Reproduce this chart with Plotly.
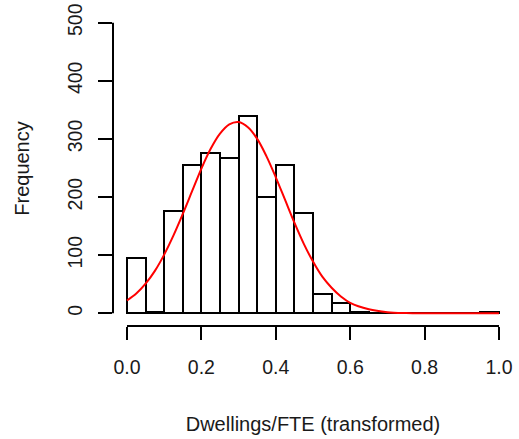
import plotly.graph_objects as go

# histogram bins (left edges) and counts
bin_starts = [0.00, 0.05, 0.10, 0.15, 0.20, 0.25, 0.30, 0.35, 0.40, 0.45,
              0.50, 0.55, 0.60, 0.65, 0.70, 0.75, 0.80, 0.85, 0.90, 0.95]
counts = [95, 3, 176, 255, 276, 268, 340, 200, 255, 172,
          33, 17, 3, 1, 0, 0, 0, 0, 0, 2]
bin_width = 0.05

# fitted normal curve (scaled to counts)
curve_x = [0.0, 0.025, 0.05, 0.075, 0.1, 0.125, 0.15, 0.175, 0.2, 0.225, 0.25,
           0.275, 0.3, 0.325, 0.35, 0.375, 0.4, 0.425, 0.45, 0.475, 0.5,
           0.525, 0.55, 0.575, 0.6, 0.65, 0.7, 0.75, 0.8, 0.9, 1.0]
curve_y = [22, 34, 51, 73, 101, 134, 171, 210, 249, 283, 309,
           325, 329, 320, 300, 270, 234, 195, 156, 120, 89,
           63, 44, 29, 18, 7, 2, 0.5, 0.1, 0, 0]

x_ticks = [0.0, 0.2, 0.4, 0.6, 0.8, 1.0]
y_ticks = [0, 100, 200, 300, 400, 500]

font_name = "Liberation Sans"
W, H = 519, 439

fig = go.Figure()
fig.add_trace(go.Bar(x=bin_starts, y=counts, width=bin_width, offset=0,
                     marker=dict(color="white", line=dict(color="black", width=2)),
                     hoverinfo="x+y"))
fig.add_trace(go.Scatter(x=curve_x, y=curve_y, mode="lines", line_shape="spline",
                         line=dict(color="#ff0000", width=2)))

# R style detached axis lines
fig.add_shape(type="line", xref="x", yref="paper", x0=x_ticks[0], x1=x_ticks[-1], y0=0, y1=0,
              line=dict(color="black", width=2))
fig.add_shape(type="line", xref="paper", yref="y", x0=0, x1=0, y0=y_ticks[0], y1=y_ticks[-1],
              line=dict(color="black", width=2))

fig.update_layout(
    width=W, height=H, showlegend=False, bargap=0,
    paper_bgcolor="white", plot_bgcolor="white",
    margin=dict(l=113, r=5.7, t=10.7, b=113),
    font=dict(family=font_name, size=19.5, color="#1a1a1a"),
)
fig.update_xaxes(range=[-0.0376, 1.0376], tickvals=x_ticks, ticktext=["%.1f" % v for v in x_ticks],
                 ticks="outside", ticklen=13, tickwidth=2, tickcolor="black", automargin=False,
                 showline=False, showgrid=False, zeroline=False, ticklabelstandoff=11,
                 ticklabeloverflow="allow",
                 title=dict(text="Dwellings/FTE (transformed)", standoff=39, font=dict(size=20)))
fig.update_yaxes(range=[-21.8, 520], tickvals=y_ticks, tickangle=-90, automargin=False,
                 ticks="outside", ticklen=14, tickwidth=2, tickcolor="black",
                 showline=False, showgrid=False, zeroline=False, ticklabelstandoff=8,
                 ticklabeloverflow="allow",
                 title=dict(text="Frequency", standoff=29, font=dict(size=20)))

# drop the default 8px page margin so the figure sits at the window corner
fig.write_html("out.html", config={"displayModeBar": False},
               post_script="document.body.style.margin='0';")
